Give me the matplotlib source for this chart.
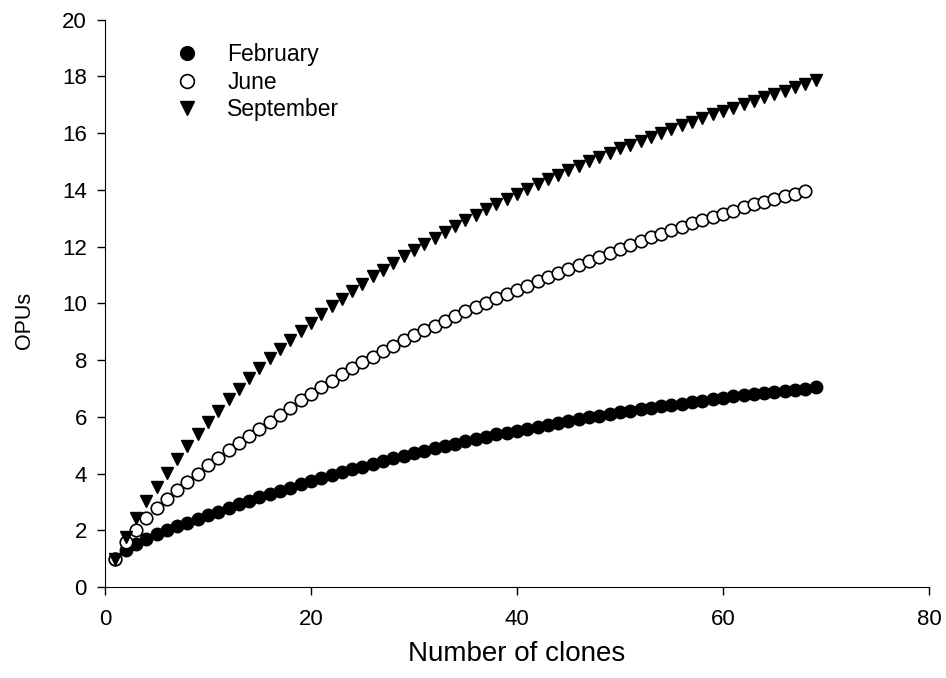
import matplotlib.pyplot as plt
import numpy as np

plt.rcParams['font.family'] = ['Liberation Sans', 'DejaVu Sans']

# OPUs per number of clones
february = [1.00, 1.32, 1.52, 1.70, 1.86, 2.00, 2.14, 2.27, 2.40, 2.53,
            2.66, 2.79, 2.92, 3.04, 3.16, 3.28, 3.40, 3.51, 3.62, 3.73,
            3.84, 3.95, 4.05, 4.15, 4.25, 4.35, 4.45, 4.54, 4.63, 4.72,
            4.81, 4.90, 4.98, 5.06, 5.14, 5.22, 5.30, 5.38, 5.45, 5.52,
            5.59, 5.66, 5.73, 5.80, 5.86, 5.92, 5.98, 6.04, 6.10, 6.16,
            6.22, 6.27, 6.32, 6.37, 6.42, 6.47, 6.52, 6.57, 6.62, 6.67,
            6.72, 6.76, 6.80, 6.84, 6.88, 6.92, 6.96, 7.00, 7.04]
june = [1.00, 1.58, 2.02, 2.42, 2.78, 3.10, 3.42, 3.72, 4.00, 4.30,
        4.56, 4.82, 5.07, 5.33, 5.58, 5.83, 6.08, 6.33, 6.58, 6.82,
        7.05, 7.28, 7.50, 7.72, 7.92, 8.12, 8.32, 8.51, 8.70, 8.88,
        9.05, 9.22, 9.39, 9.56, 9.72, 9.88, 10.03, 10.18, 10.33, 10.48,
        10.63, 10.78, 10.93, 11.08, 11.23, 11.37, 11.51, 11.65, 11.79, 11.93,
        12.07, 12.20, 12.33, 12.46, 12.58, 12.70, 12.82, 12.94, 13.05, 13.16,
        13.27, 13.38, 13.49, 13.59, 13.69, 13.78, 13.87, 13.95]
september = [1.00, 1.75, 2.45, 3.02, 3.52, 4.03, 4.52, 4.96, 5.40, 5.82,
             6.22, 6.62, 7.00, 7.38, 7.74, 8.08, 8.40, 8.72, 9.02, 9.32,
             9.61, 9.90, 10.17, 10.44, 10.70, 10.95, 11.19, 11.43, 11.66, 11.89,
             12.11, 12.32, 12.53, 12.74, 12.94, 13.13, 13.32, 13.51, 13.69, 13.87,
             14.04, 14.21, 14.38, 14.54, 14.70, 14.86, 15.01, 15.16, 15.31, 15.46,
             15.60, 15.74, 15.88, 16.01, 16.14, 16.27, 16.40, 16.53, 16.66, 16.78,
             16.90, 17.02, 17.14, 17.26, 17.38, 17.50, 17.62, 17.74, 17.88]

fig = plt.figure(figsize=(9.46, 6.78), dpi=100)
ax = fig.add_axes([0.111, 0.134, 0.871, 0.837])

ax.plot(np.arange(1, len(february) + 1), february, 'o', ms=9, color='black',
        mec='black', mew=1, label='February', zorder=3)
ax.plot(np.arange(1, len(june) + 1), june, 'o', ms=9, mfc='white',
        mec='black', mew=1.2, label='June', zorder=3)
ax.plot(np.arange(1, len(september) + 1), september, 'v', ms=9, color='black',
        label='September', zorder=3)

ax.set_xlim(0, 80)
ax.set_ylim(0, 20)
ax.set_xticks(range(0, 81, 20))
ax.set_yticks(range(0, 21, 2))
ax.spines['top'].set_visible(False)
ax.spines['right'].set_visible(False)
ax.tick_params(direction='out', length=6, width=1, labelsize=16)
ax.tick_params(axis='x', pad=10)
ax.tick_params(axis='y', pad=7)
ax.set_xlabel('Number of clones', fontsize=20, labelpad=8)
ax.set_ylabel('OPUs', fontsize=15.5)
ax.yaxis.set_label_coords(-0.085, 0.47)

ax.legend(loc='upper left', bbox_to_anchor=(0.06, 0.975), frameon=False,
          fontsize=16.5, markerscale=1.1, handletextpad=0.78, labelspacing=0.2,
          borderaxespad=0)

fig.savefig('out.png', dpi=100)
